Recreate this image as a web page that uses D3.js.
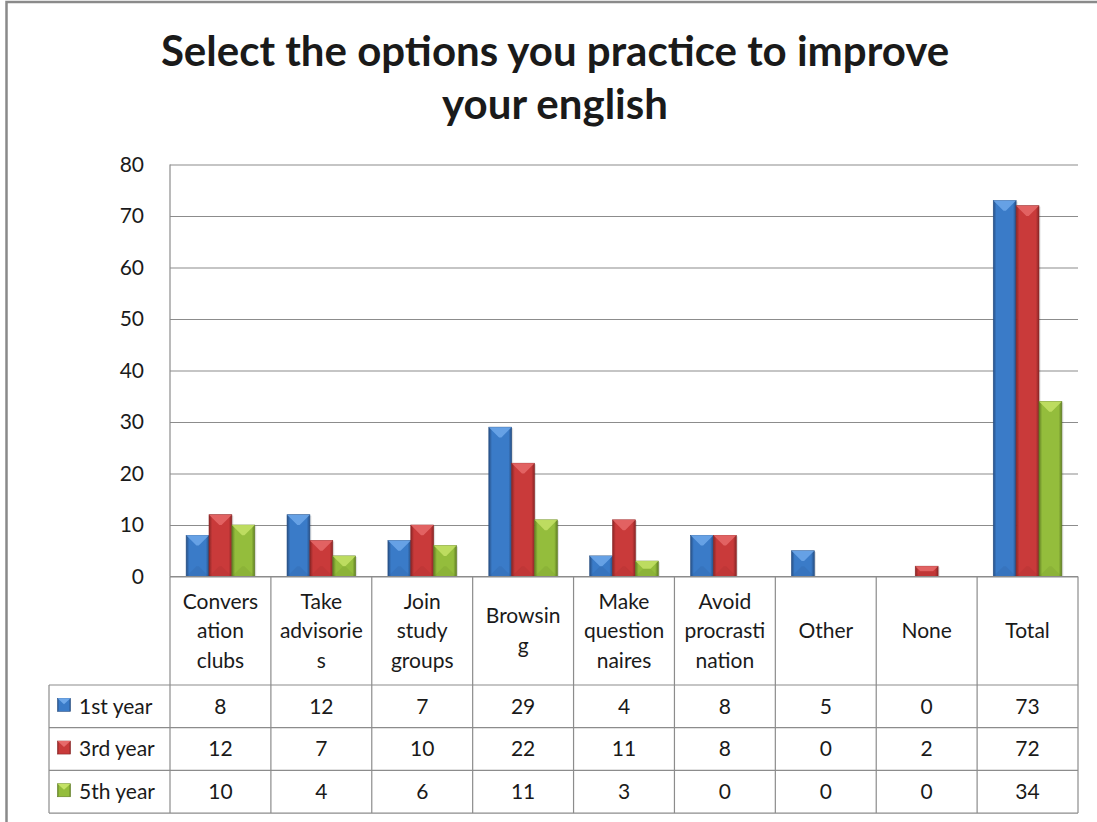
<!DOCTYPE html>
<html>
<head>
<meta charset="utf-8">
<script src="https://cdn.jsdelivr.net/npm/d3@7"></script>
<style>
	body { margin: 0; background: #fff; }
	svg text { font-family: Lato, "Open Sans", sans-serif; fill: #1a1a1a; }
</style>
</head>
<body>
<div id="chart"></div>
<script>
// Data
// ----
const titleLines = ["Select the options you practice to improve", "your english"];
const categories = ["Conversation clubs", "Take advisories", "Join study groups", "Browsing",
	"Make questionnaires", "Avoid procrastination", "Other", "None", "Total"];
// header labels as Excel wrapped them
const categoryLines = [
	["Convers", "ation", "clubs"],
	["Take", "advisorie", "s"],
	["Join", "study", "groups"],
	["Browsin", "g"],
	["Make", "question", "naires"],
	["Avoid", "procrasti", "nation"],
	["Other"],
	["None"],
	["Total"]
];
const seriesNames = ["1st year", "3rd year", "5th year"];
const firstYear = [8, 12, 7, 29, 4, 8, 5, 0, 73];
const thirdYear = [12, 7, 10, 22, 11, 8, 0, 2, 72];
const fifthYear = [10, 4, 6, 11, 3, 0, 0, 0, 34];
const yTicks = [0, 10, 20, 30, 40, 50, 60, 70, 80];

// base, light (bevel top), dark (edges)
const seriesColors = [
	{base: "#3a7bc8", light: "#6ea8ea", dark: "#274f84"},
	{base: "#c93a3a", light: "#e66a6a", dark: "#8a2626"},
	{base: "#94bd3c", light: "#c4e266", dark: "#617f24"}
];


class OptionsBarChart {

	constructor(mainDivId) {
		this.values = [firstYear, thirdYear, fifthYear];

		// Dimensions
		this.width = 1097;
		this.height = 822;
		this.plot = {left: 170, right: 1078, top: 164.5, bottom: 576.5};
		this.table = {left: 49, headerBottom: 685, rowHeight: 42.7};
		this.gridColor = "#8c8c8c";

		// Ranges
		this.x = d3.scaleBand()
			.domain(categories)
			.range([this.plot.left, this.plot.right])
			.paddingInner(0.32)
			.paddingOuter(0.16);
		this.xSeries = d3.scaleBand()
			.domain(seriesNames)
			.range([0, this.x.bandwidth()]);
		this.y = d3.scaleLinear()
			.domain([0, 80])
			.range([this.plot.bottom, this.plot.top]);

		// SVG
		this.svg = d3.select("#" + mainDivId)
			.append("svg")
				.attr("width", this.width)
				.attr("height", this.height);
		this.defs = this.svg.append("defs");
	}

	draw() {
		this.drawFrame();
		this.drawTitle();
		this.makeGradients();
		this.drawGrid();
		this.drawBars();
		this.drawTable();
	}


	// Layout elements
	// ---------------

	drawFrame() {
		this.svg.append("path")
			.attr("d", "M6.5," + this.height + "V2H" + this.width)
			.attr("fill", "none")
			.attr("stroke", "#8a8a8a")
			.attr("stroke-width", 2.5);
	}

	drawTitle() {
		this.svg.append("text")
			.attr("x", 555)
			.attr("y", 66)
			.style("text-anchor", "middle")
			.style("font-weight", 700)
			.style("font-size", "42px")
			.selectAll("tspan")
			.data(titleLines)
			.join("tspan")
				.attr("x", 555)
				.attr("dy", (d, i) => i == 0 ? 0 : 53)
				.text(d => d);
	}

	drawGrid() {
		let yAxis = d3.axisLeft(this.y)
			.tickValues(yTicks)
			.tickSize(-(this.plot.right - this.plot.left))
			.tickPadding(26);

		let g = this.svg.append("g")
			.attr("class", "y axis")
			.attr("transform", "translate(" + this.plot.left + ",0)")
			.call(yAxis);
		g.select(".domain").remove();
		g.selectAll(".tick line")
			.attr("stroke", this.gridColor)
			.attr("stroke-width", 1.2);
		g.selectAll(".tick text")
			.style("font-size", "21px")
			.style("font-family", "Lato, sans-serif")
			.attr("fill", "#1a1a1a");

		// left axis line
		this.svg.append("line")
			.attr("x1", this.plot.left).attr("x2", this.plot.left)
			.attr("y1", this.plot.top).attr("y2", this.plot.bottom)
			.attr("stroke", this.gridColor)
			.attr("stroke-width", 1.2);
	}

	makeGradients() {
		seriesColors.forEach((c, i) => {
			let grad = this.defs.append("linearGradient")
				.attr("id", "barGrad" + i)
				.attr("x1", "0%").attr("x2", "100%")
				.attr("y1", "0%").attr("y2", "0%");
			grad.append("stop").attr("offset", "0%").attr("stop-color", c.dark);
			grad.append("stop").attr("offset", "14%").attr("stop-color", c.base);
			grad.append("stop").attr("offset", "86%").attr("stop-color", c.base);
			grad.append("stop").attr("offset", "100%").attr("stop-color", c.dark);
		});
	}


	// Plot data
	// ---------

	drawBars() {
		let bevel = (x, y, w, d) => [[x, y], [x + w, y], [x + w - d, y + d], [x + d, y + d]];

		seriesNames.forEach((name, s) => {
			let c = seriesColors[s];
			let bars = this.svg.append("g")
				.attr("class", "series")
				.selectAll("g")
				.data(categories.map((cat, i) => ({cat: cat, v: this.values[s][i]})).filter(d => d.v > 0))
				.join("g");

			let bx = d => this.x(d.cat) + this.xSeries(name);
			let w = this.xSeries.bandwidth();

			// drop shadow
			bars.append("rect")
				.attr("x", d => bx(d) + 1.5)
				.attr("y", d => this.y(d.v) + 1)
				.attr("width", w)
				.attr("height", d => this.y(0) - this.y(d.v) - 1)
				.attr("fill", "#000")
				.attr("opacity", 0.12);

			bars.append("rect")
				.attr("x", bx)
				.attr("y", d => this.y(d.v))
				.attr("width", w)
				.attr("height", d => this.y(0) - this.y(d.v))
				.attr("fill", "url(#barGrad" + s + ")")
				.attr("stroke", c.dark)
				.attr("stroke-width", 0.6);

			// top bevel
			bars.append("polygon")
				.attr("points", d => {
					let h = this.y(0) - this.y(d.v);
					let dd = Math.min(w * 0.45, h / 2);
					return bevel(bx(d), this.y(d.v), w, dd).join(" ");
				})
				.attr("fill", c.light)
				.attr("opacity", 0.85);

			// bottom bevel
			bars.append("polygon")
				.attr("points", d => {
					let h = this.y(0) - this.y(d.v);
					let dd = Math.min(w * 0.45, h / 2);
					let x0 = bx(d), y0 = this.y(0);
					return [[x0, y0], [x0 + w, y0], [x0 + w - dd, y0 - dd], [x0 + dd, y0 - dd]].join(" ");
				})
				.attr("fill", c.dark)
				.attr("opacity", 0.15);
		});
	}

	drawTable() {
		let step = this.x.step();
		let left = this.plot.left;
		let right = this.plot.right;
		let top = this.plot.bottom;
		let hb = this.table.headerBottom;
		let rh = this.table.rowHeight;
		let bottom = hb + rh * seriesNames.length;
		let g = this.svg.append("g").attr("class", "table");

		// horizontal lines
		g.append("line")
			.attr("x1", left).attr("x2", right)
			.attr("y1", top).attr("y2", top)
			.attr("stroke", this.gridColor).attr("stroke-width", 1.2);
		for (let r = 0; r <= seriesNames.length; r++) {
			g.append("line")
				.attr("x1", this.table.left).attr("x2", right)
				.attr("y1", hb + r * rh).attr("y2", hb + r * rh)
				.attr("stroke", this.gridColor).attr("stroke-width", 1.2);
		}

		// vertical lines
		for (let i = 0; i <= categories.length; i++) {
			let xv = left + i * step;
			g.append("line")
				.attr("x1", xv).attr("x2", xv)
				.attr("y1", top).attr("y2", bottom)
				.attr("stroke", this.gridColor).attr("stroke-width", 1.2);
		}
		g.append("line")
			.attr("x1", this.table.left).attr("x2", this.table.left)
			.attr("y1", hb).attr("y2", bottom)
			.attr("stroke", this.gridColor).attr("stroke-width", 1.2);

		// header labels
		let lineGap = 29.5;
		let headerMid = (top + hb) / 2;
		categories.forEach((cat, i) => {
			let lines = categoryLines[i];
			let cx = left + (i + 0.5) * step;
			let y0 = headerMid - (lines.length - 1) * lineGap / 2;
			g.append("text")
				.style("text-anchor", "middle")
				.style("font-size", "21px")
				.selectAll("tspan")
				.data(lines)
				.join("tspan")
					.attr("x", cx)
					.attr("y", (d, k) => y0 + k * lineGap)
					.attr("dy", "0.35em")
					.text(d => d);
		});

		// rows
		seriesNames.forEach((name, s) => {
			let cy = hb + (s + 0.5) * rh;
			let c = seriesColors[s];

			// legend key
			g.append("rect")
				.attr("x", 57.5).attr("y", cy - 8)
				.attr("width", 13).attr("height", 13)
				.attr("fill", "url(#barGrad" + s + ")")
				.attr("stroke", c.dark).attr("stroke-width", 0.6);
			g.append("polygon")
				.attr("points", [[57.5, cy - 8], [70.5, cy - 8], [64, cy - 2]].join(" "))
				.attr("fill", c.light);

			g.append("text")
				.attr("x", 79)
				.attr("y", cy)
				.attr("dy", "0.35em")
				.style("font-size", "21px")
				.text(name);

			this.values[s].forEach((v, i) => {
				g.append("text")
					.attr("x", left + (i + 0.5) * step)
					.attr("y", cy)
					.attr("dy", "0.35em")
					.style("text-anchor", "middle")
					.style("font-size", "21px")
					.text(v);
			});
		});
	}
}

let chart = new OptionsBarChart("chart");
chart.draw();
</script>
</body>
</html>
